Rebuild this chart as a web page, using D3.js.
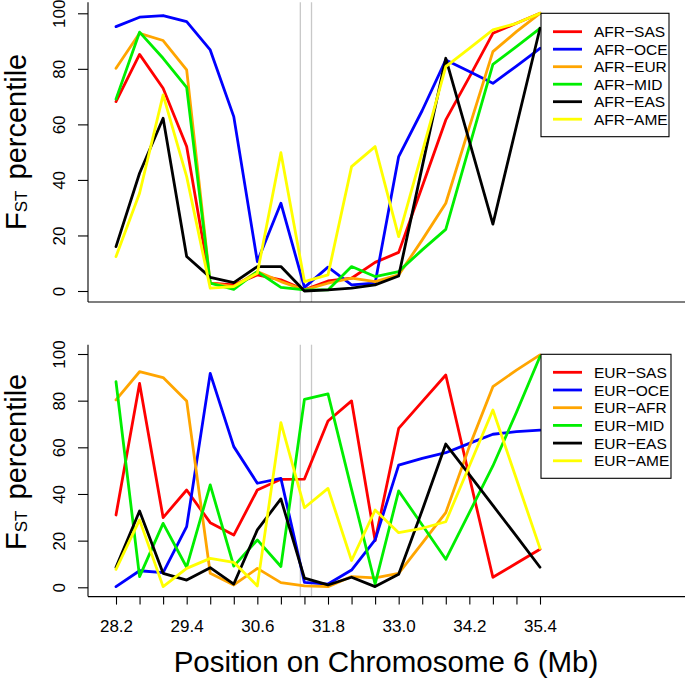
<!DOCTYPE html>
<html>
<head>
<meta charset="utf-8">
<script src="https://cdn.jsdelivr.net/npm/d3@7"></script>
<style>
html,body{margin:0;padding:0;background:#fff;}
svg{display:block;}
text{font-family:"Liberation Sans",Arial,Helvetica,sans-serif;fill:#000;}
</style>
</head>
<body>
<svg id="chart" width="685" height="685"></svg>
<script>
// ---------- data ----------
const positions = [28.2, 28.6, 29.0, 29.4, 29.8, 30.2, 30.6, 31.0, 31.4, 31.8,
                   32.2, 32.6, 33.0, 33.4, 33.8, 34.2, 34.6, 35.0, 35.4];
const tickLabels = ["28.2", "29.4", "30.6", "31.8", "33.0", "34.2", "35.4"];
const yTicks = [0, 20, 40, 60, 80, 100];
const markerLines = [31.33, 31.52];
const seriesColors = ["#ff0000", "#0000ff", "#ffa500", "#00ee00", "#000000", "#ffff00"];

const topNames = ["AFR\u2212SAS", "AFR\u2212OCE", "AFR\u2212EUR", "AFR\u2212MID", "AFR\u2212EAS", "AFR\u2212AME"];
const afrSas = [68.2, 85.2, 73, 52, 2.8, 2.2, 5.8, 4, 0.4, 3.6, 4.6, 10.3, 13.9, 37.6, 61.6, 77, 92.8, 96.4, 100];
const afrOce = [95.2, 98.6, 99.2, 97, 86.8, 62.8, 10.6, 31.6, 1.3, 8.6, 2.2, 2.8, 48.4, 65, 83.2, 79, 74.8, 81, 87.4];
const afrEur = [80.2, 92.8, 90.2, 79.6, 2.8, 1.6, 7, 3.4, 0.4, 2.8, 4.6, 3.4, 5.8, 18.4, 31.6, 59, 86.2, 93.4, 100];
const afrMid = [69.1, 93.2, 83.8, 73.3, 2.8, 0.6, 7, 1.3, 0.4, 0.4, 8.8, 5.2, 7, 14.8, 22.2, 52, 81.6, 88, 94.6];
const afrEas = [16, 42.4, 62.2, 12.4, 4.9, 3, 8.8, 8.8, 0, 0.4, 1, 2.2, 5.4, 44.8, 83.8, 54, 24.1, 59.4, 94.6];
const afrAme = [12.4, 35.2, 70.6, 41.2, 1, 1.6, 6.4, 49.8, 3.4, 5.8, 44.8, 52, 19.6, 50, 80.8, 87.4, 94, 96.4, 100];

const bottomNames = ["EUR\u2212SAS", "EUR\u2212OCE", "EUR\u2212AFR", "EUR\u2212MID", "EUR\u2212EAS", "EUR\u2212AME"];
const eurSas = [31, 87.4, 29.9, 41.7, 27.7, 22.4, 41.7, 46.3, 46.4, 71.3, 79.9, 20, 68.1, 79.6, 91, 47.4, 4.3, 10.3, 16.3];
const eurOce = [0.3, 7.1, 6.3, 26, 91.7, 60.3, 44.6, 46.7, 2.1, 1.4, 7.4, 20.3, 52.4, 55.3, 57.7, 61.7, 65.6, 66.7, 67.4];
const eurAfr = [80.3, 92.4, 89.9, 79.9, 6, 1, 8.1, 2, 0.6, 0.3, 4.6, 4, 6, 18.9, 32, 60.3, 86, 93.1, 99.6];
const eurMid = [88.1, 4.6, 27.4, 8.6, 43.9, 9.1, 20.3, 8.9, 80.6, 82.9, 42, 1.4, 41.3, 26.7, 12, 32, 52, 75, 98.9];
const eurEas = [8.6, 32.7, 6, 3.1, 8.4, 1.4, 24.6, 37.9, 3.9, 1, 4.3, 0.3, 5.6, 33, 61.4, 48.3, 35.1, 21.9, 8.6];
const eurAme = [7.7, 28.9, 0.3, 8.1, 12.4, 10.7, 0.6, 70.6, 34.1, 42.4, 11.5, 33.1, 23.4, 25.3, 28.1, 52, 76, 46.4, 16.7];

// ---------- layout ----------
const svg = d3.select("#chart");
const x = d3.scaleLinear().domain([28.2, 35.4]).range([116, 540]);
const plotLeft = 88, plotRight = 685;

const panels = [
  {names: topNames, series: [afrSas, afrOce, afrEur, afrMid, afrEas, afrAme],
   y: d3.scaleLinear().domain([0, 100]).range([291, 13.3]),
   top: 2.2, bottom: 302, xTicks: false,
   legend: {x: 541, y: 13.3, w: 128, h: 123.4, row0: 31.7, step: 17.5},
   labelStart: 230},
  {names: bottomNames, series: [eurSas, eurOce, eurAfr, eurMid, eurEas, eurAme],
   y: d3.scaleLinear().domain([0, 100]).range([587.3, 354]),
   top: 344.7, bottom: 596.6, xTicks: true,
   legend: {x: 541, y: 354.3, w: 130, h: 124, row0: 372.3, step: 17.7},
   labelStart: 550}
];

panels.forEach(p => {
  const g = svg.append("g");

  // grey marker lines
  g.selectAll("line.marker").data(markerLines).enter().append("line")
    .attr("x1", d => x(d)).attr("x2", d => x(d))
    .attr("y1", p.top).attr("y2", p.bottom)
    .attr("stroke", "#c8c8c8").attr("stroke-width", 1.3);

  // series lines
  const line = d3.line().x((d, i) => x(positions[i])).y(d => p.y(d));
  p.series.forEach((s, k) => {
    g.append("path").datum(s).attr("d", line)
      .attr("fill", "none").attr("stroke", seriesColors[k])
      .attr("stroke-width", 2.8).attr("stroke-linejoin", "round").attr("stroke-linecap", "round");
  });

  // L-shaped frame
  g.append("line").attr("x1", plotLeft).attr("x2", plotLeft).attr("y1", p.top).attr("y2", p.bottom)
    .attr("stroke", "#000").attr("stroke-width", 1.1);
  g.append("line").attr("x1", plotLeft).attr("x2", plotRight).attr("y1", p.bottom).attr("y2", p.bottom)
    .attr("stroke", "#000").attr("stroke-width", 1.1);

  // y axis
  const yAxis = d3.axisLeft(p.y).tickValues(yTicks).tickSize(10).tickSizeOuter(0).tickFormat(d3.format("d"));
  const ya = g.append("g").attr("transform", `translate(${plotLeft},0)`).call(yAxis);
  ya.select(".domain").remove();
  ya.selectAll("line").attr("stroke", "#000").attr("stroke-width", 1.1);
  ya.selectAll("text")
    .attr("x", 0).attr("y", 0).attr("dy", null)
    .attr("transform", "translate(-23,0) rotate(-90)")
    .attr("text-anchor", "middle")
    .style("font-size", "17px").style("font-family", "Liberation Sans, Arial, sans-serif");

  // x axis (bottom panel only)
  if (p.xTicks) {
    const xAxis = d3.axisBottom(x).tickValues(positions).tickSize(8).tickSizeOuter(0)
      .tickFormat(d => { const s = d.toFixed(1); return tickLabels.includes(s) ? s : ""; });
    const xa = g.append("g").attr("transform", `translate(0,${p.bottom})`).call(xAxis);
    xa.select(".domain").remove();
    xa.selectAll("line").attr("stroke", "#000").attr("stroke-width", 1.1);
    xa.selectAll("text").attr("y", 35).attr("dy", null)
      .style("font-size", "17px").style("font-family", "Liberation Sans, Arial, sans-serif");
  }

  // y label: F_ST percentile
  const lab = g.append("text")
    .attr("transform", `translate(26,${p.labelStart}) rotate(-90)`)
    .attr("text-anchor", "start").style("font-size", "29px");
  lab.append("tspan").text("F");
  lab.append("tspan").text("ST").style("font-size", "17px").attr("dy", 1);
  lab.append("tspan").text(" percentile").attr("dy", -1).attr("dx", 3);

  // legend
  const L = p.legend;
  const lg = g.append("g");
  lg.append("rect").attr("x", L.x).attr("y", L.y).attr("width", L.w).attr("height", L.h)
    .attr("fill", "#fff").attr("stroke", "#000").attr("stroke-width", 1.1);
  p.names.forEach((n, k) => {
    const yy = L.row0 + k * L.step;
    lg.append("line").attr("x1", 553).attr("x2", 582).attr("y1", yy).attr("y2", yy)
      .attr("stroke", seriesColors[k]).attr("stroke-width", 2.8);
    lg.append("text").attr("x", 594).attr("y", yy).attr("dy", "0.36em")
      .style("font-size", "15.5px").text(n);
  });
});

// x axis title
svg.append("text").attr("x", 386).attr("y", 672).attr("text-anchor", "middle")
  .style("font-size", "29.5px").text("Position on Chromosome 6 (Mb)");
</script>
</body>
</html>
